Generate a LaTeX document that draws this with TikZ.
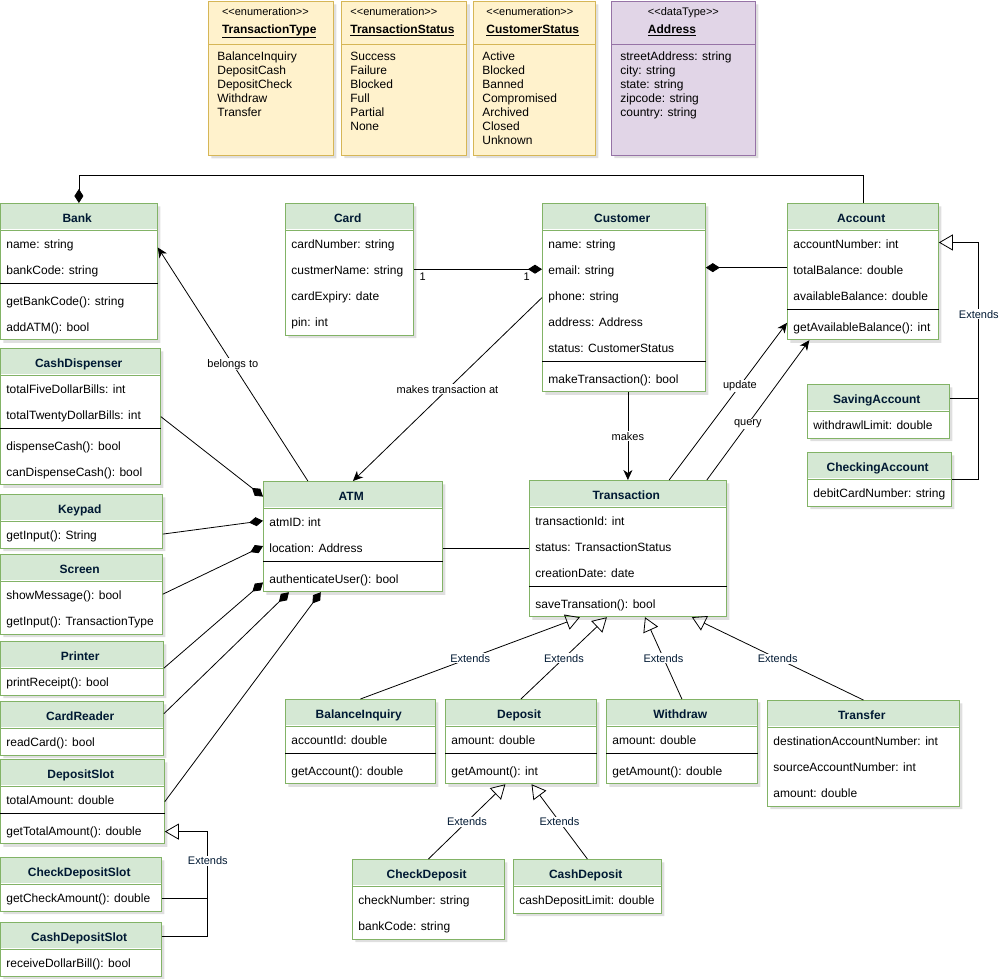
\documentclass[tikz,border=0pt]{standalone}
\usepackage{fontspec}
\setmainfont{Liberation Sans}
\usetikzlibrary{arrows.meta,shapes.multipart,shadows}
\definecolor{umlgreen}{RGB}{213,232,212}
\definecolor{umlgreenline}{RGB}{130,179,102}
\definecolor{enumfill}{RGB}{255,242,204}
\definecolor{enumline}{RGB}{214,182,86}
\definecolor{typefill}{RGB}{225,213,231}
\definecolor{typeline}{RGB}{150,115,166}
\definecolor{titlenavy}{RGB}{0,25,51}
\newcommand{\clsname}[1]{\textcolor{titlenavy}{\textbf{#1}}}
\newcommand{\mgap}{\rule{0pt}{22.2pt}}

\begin{document}
\begin{tikzpicture}[
      x=1pt, y=-1pt,
      font=\fontsize{12}{26}\selectfont,
      cls/.style={rectangle split, rectangle split parts=#1, draw=umlgreenline, fill=white, thick,
                  path picture={\fill[umlgreen] (path picture bounding box.north west)
                                rectangle ([yshift=-26pt]path picture bounding box.north east);},
                  rectangle split part align={center,left}, align=left,
                  anchor=north west, inner xsep=6pt, inner ysep=0pt,
                  drop shadow={shadow xshift=3pt, shadow yshift=-3pt, opacity=0.25},
                  execute at begin node=\strut, execute at end node=\strut},
      cls/.default=3,
      enum/.style={rectangle split, rectangle split parts=2, draw=enumline, fill=enumfill, thick,
                   rectangle split part align={center,left}, align=left,
                   anchor=north west, inner xsep=9pt, inner ysep=6pt,
                   font=\fontsize{12}{14}\selectfont,
                   drop shadow={shadow xshift=3pt, shadow yshift=-3pt, opacity=0.25},
                   execute at begin node=\strut, execute at end node=\strut},
      lbl/.style={fill=white, inner sep=1pt, font=\fontsize{11}{13}\selectfont},
      extlbl/.style={lbl, text=titlenavy},
      comp/.style={thick, -{Diamond[length=14pt, width=9pt]}},
      assoc/.style={thick, -{Stealth[length=10pt, width=9pt, inset=3pt]}},
      ext/.style={thick, -{Triangle[open, length=14pt, width=16pt]}},
    ]
    \useasboundingbox (0,0) rectangle (1000,978);

    % enumerations and data type
    \node[enum, minimum width=125] (ttype) at (208,1) {{\fontsize{11}{14}\selectfont <{}<enumeration>{}>}\\[4pt] \underline{\textbf{TransactionType}}
      \nodepart{two}\strut BalanceInquiry\\ DepositCash\\ DepositCheck\\ Withdraw\\ Transfer\\ \\};
    \node[enum, minimum width=124] (tstatus) at (341,1) {{\fontsize{11}{14}\selectfont <{}<enumeration>{}>}\\[4pt] \underline{\textbf{TransactionStatus}}
      \nodepart{two}\strut Success\\ Failure\\ Blocked\\ Full\\ Partial\\ None\\};
    \node[enum, minimum width=122] (cstatus) at (473,1) {{\fontsize{11}{14}\selectfont <{}<enumeration>{}>}\\[4pt] \underline{\textbf{CustomerStatus}}
      \nodepart{two}\strut Active\\ Blocked\\ Banned\\ Compromised\\ Archived\\ Closed\\ Unknown};
    \node[enum, draw=typeline, fill=typefill, minimum width=144] (address) at (611,1) {{\fontsize{11}{14}\selectfont <{}<dataType>{}>}\\[4pt] \underline{\textbf{Address}}
      \nodepart{two}\strut streetAddress: string\\ city: string\\ state: string\\ zipcode: string\\ country: string\\ \\};

    % classes
    \node[cls, minimum width=157] (bank) at (0,203) {\clsname{Bank}
      \nodepart{two}\strut name: string\\ bankCode: string
      \nodepart{three}\mgap getBankCode(): string\\ addATM(): bool};
    \node[cls=2, minimum width=128] (card) at (285,203) {\clsname{Card}
      \nodepart{two}\strut cardNumber: string\\ custmerName: string\\ cardExpiry: date\\ pin: int};
    \node[cls, minimum width=163] (customer) at (542,203) {\clsname{Customer}
      \nodepart{two}\strut name: string\\ email: string\\ phone: string\\ address: Address\\ status: CustomerStatus
      \nodepart{three}\mgap makeTransaction(): bool};
    \node[cls, minimum width=151] (account) at (787,203) {\clsname{Account}
      \nodepart{two}\strut accountNumber: int\\ totalBalance: double\\ availableBalance: double
      \nodepart{three}\mgap getAvailableBalance(): int};
    \node[cls, minimum width=160] (cashdisp) at (0,348) {\clsname{CashDispenser}
      \nodepart{two}\strut totalFiveDollarBills: int\\ totalTwentyDollarBills: int
      \nodepart{three}\mgap dispenseCash(): bool\\ canDispenseCash(): bool};
    \node[cls=2, minimum width=162] (keypad) at (0,494) {\clsname{Keypad}
      \nodepart{two}\strut getInput(): String};
    \node[cls=2, minimum width=162] (screen) at (0,554) {\clsname{Screen}
      \nodepart{two}\strut showMessage(): bool\\ getInput(): TransactionType};
    \node[cls=2, minimum width=163] (printer) at (0,641) {\clsname{Printer}
      \nodepart{two}\strut printReceipt(): bool};
    \node[cls=2, minimum width=163] (cardreader) at (0,701) {\clsname{CardReader}
      \nodepart{two}\strut readCard(): bool};
    \node[cls, minimum width=164] (depslot) at (0,759) {\clsname{DepositSlot}
      \nodepart{two}\strut totalAmount: double
      \nodepart{three}\mgap getTotalAmount(): double};
    \node[cls=2, minimum width=161] (checkslot) at (0,857) {\clsname{CheckDepositSlot}
      \nodepart{two}\strut getCheckAmount(): double};
    \node[cls=2, minimum width=161] (cashslot) at (0,922) {\clsname{CashDepositSlot}
      \nodepart{two}\strut receiveDollarBill(): bool};
    \node[cls, minimum width=179] (atm) at (263,481) {\clsname{ATM}
      \nodepart{two}\strut atmID: int\\ location: Address
      \nodepart{three}\mgap authenticateUser(): bool};
    \node[cls, minimum width=197] (transaction) at (529,480) {\clsname{Transaction}
      \nodepart{two}\strut transactionId: int\\ status: TransactionStatus\\ creationDate: date
      \nodepart{three}\mgap saveTransation(): bool};
    \node[cls=2, minimum width=142] (saving) at (807,384) {\clsname{SavingAccount}
      \nodepart{two}\strut withdrawlLimit: double};
    \node[cls=2, minimum width=142] (checking) at (807,452) {\clsname{CheckingAccount}
      \nodepart{two}\strut debitCardNumber: string};
    \node[cls, minimum width=150] (balinq) at (285,699) {\clsname{BalanceInquiry}
      \nodepart{two}\strut accountId: double
      \nodepart{three}\mgap getAccount(): double};
    \node[cls, minimum width=151] (deposit) at (445,699) {\clsname{Deposit}
      \nodepart{two}\strut amount: double
      \nodepart{three}\mgap getAmount(): int};
    \node[cls, minimum width=151] (withdraw) at (606,699) {\clsname{Withdraw}
      \nodepart{two}\strut amount: double
      \nodepart{three}\mgap getAmount(): double};
    \node[cls=2, minimum width=192] (transfer) at (767,700) {\clsname{Transfer}
      \nodepart{two}\strut destinationAccountNumber: int\\ sourceAccountNumber: int\\ amount: double};
    \node[cls=2, minimum width=152] (checkdep) at (352,859) {\clsname{CheckDeposit}
      \nodepart{two}\strut checkNumber: string\\ bankCode: string};
    \node[cls=2, minimum width=148] (cashdep) at (513,859) {\clsname{CashDeposit}
      \nodepart{two}\strut cashDepositLimit: double};

    % attribute / operation separators
    \foreach \c in {bank,customer,account,cashdisp,depslot,atm,transaction,balinq,deposit,withdraw}
      \draw[thick] (\c.two split west) -- (\c.two split east);

    % composition
    \draw[comp] (account.north) -- ++(0,-28) -| (bank.north);
    \draw[comp] (card.east) -- node[lbl, pos=0.07, below=2pt] {1} node[lbl, pos=0.88, below=2pt] {1} (card.east -| customer.west);
    \draw[comp] (account.177) -- (account.177 -| customer.east);
    \draw[comp] (cashdisp.east) -- (atm.156);
    \draw[comp] (keypad.-9) -- (atm.170);
    \draw[comp] (screen.east) -- (atm.186);
    \draw[comp] (printer.east) -- (atm.207);
    \draw[comp] (cardreader.10) -- (atm.221);
    \draw[comp] (depslot.east) -- (atm.240);

    % associations
    \draw[assoc] (atm.129) -- node[lbl] {belongs to} (bank.17);
    \draw[assoc] (customer.west) -- node[lbl] {makes transaction at} (atm.north);
    \draw[assoc] (customer.south -| transaction.north) -- node[lbl] {makes} (transaction.north);
    \draw[assoc] (transaction.59) -- node[lbl, pos=0.6] {update} (account.214);
    \draw[assoc] (transaction.41) -- node[lbl, pos=0.4] {query} (account.232);
    \draw[thick] (atm.east |- transaction.west) -- (transaction.west);

    % generalisation
    \draw[ext] (saving.10) -- ++(29,0) coordinate (acctbus) |- node[extlbl, pos=0.27] {Extends} (account.21);
    \draw[thick] (checking.east) -| (acctbus);
    \draw[ext] (cashslot.9) -- ++(46,0) coordinate (slotbus) |- node[extlbl, pos=0.36] {Extends} (depslot.-20);
    \draw[thick] (checkslot.-10) -| (slotbus);
    \draw[ext] (balinq.north) -- node[extlbl] {Extends} (transaction.235);
    \draw[ext] (deposit.north) -- node[extlbl] {Extends} (transaction.253);
    \draw[ext] (withdraw.north) -- node[extlbl] {Extends} (transaction.284);
    \draw[ext] (transfer.north) -- node[extlbl] {Extends} (transaction.313);
    \draw[ext] (checkdep.north) -- node[extlbl] {Extends} (deposit.250);
    \draw[ext] (cashdep.north) -- node[extlbl] {Extends} (deposit.284);
  \end{tikzpicture}
\end{document}
